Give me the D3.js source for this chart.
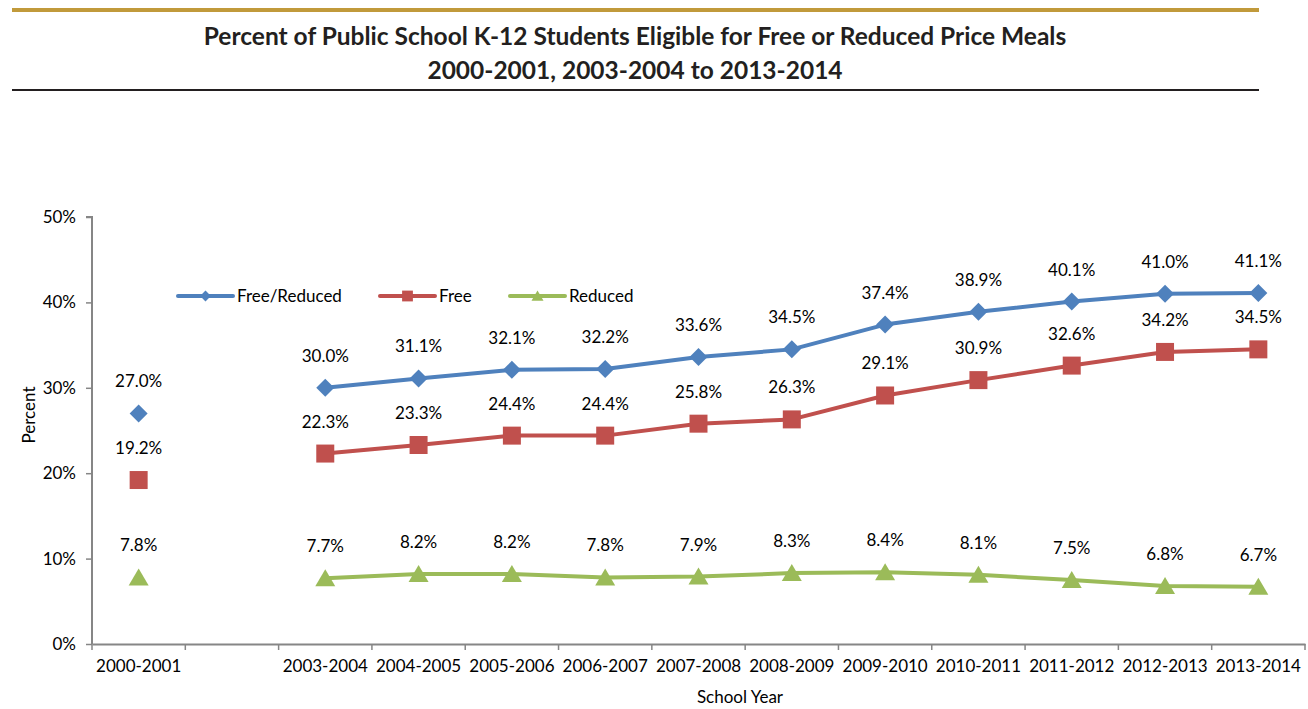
<!DOCTYPE html>
<html>
<head>
<meta charset="utf-8">
<script src="https://cdn.jsdelivr.net/npm/d3@7"></script>
<style>
  body { margin: 0; background: #fff; }
  svg { display: block; }
</style>
</head>
<body>
<svg id="mainSvg" width="1308" height="709"></svg>
<script>
let years = ["2000-2001", "", "2003-2004", "2004-2005", "2005-2006", "2006-2007", "2007-2008",
  "2008-2009", "2009-2010", "2010-2011", "2011-2012", "2012-2013", "2013-2014"];
let freeReduced = [27.0, null, 30.0, 31.1, 32.1, 32.2, 33.6, 34.5, 37.4, 38.9, 40.1, 41.0, 41.1];
let free = [19.2, null, 22.3, 23.3, 24.4, 24.4, 25.8, 26.3, 29.1, 30.9, 32.6, 34.2, 34.5];
let reduced = [7.8, null, 7.7, 8.2, 8.2, 7.8, 7.9, 8.3, 8.4, 8.1, 7.5, 6.8, 6.7];
let yTicks = [0, 10, 20, 30, 40, 50];

let series = [
  { name: "Free/Reduced", values: freeReduced, color: "#4F81BD", shape: "diamond" },
  { name: "Free", values: free, color: "#C0504D", shape: "square" },
  { name: "Reduced", values: reduced, color: "#9BBB59", shape: "triangle" }
];

let svg = d3.select('#mainSvg');
let labelFont = "Lato, Carlito, sans-serif";
let fs = 17;

// header rules + title
svg.append('rect').attr('x', 12).attr('y', 8).attr('width', 1247).attr('height', 4).attr('fill', '#C19A3B');
svg.append('rect').attr('x', 12).attr('y', 89).attr('width', 1247).attr('height', 2).attr('fill', '#231F20');
let title = svg.append('g').attr('font-family', labelFont).attr('font-weight', 'bold')
  .attr('font-size', 24.5).attr('fill', '#231F20').attr('text-anchor', 'middle');
title.append('text').attr('x', 635).attr('y', 45).text("Percent of Public School K-12 Students Eligible for Free or Reduced Price Meals");
title.append('text').attr('x', 635).attr('y', 79).text("2000-2001, 2003-2004 to 2013-2014");

let x = d3.scaleBand().domain(d3.range(years.length)).range([92, 1305]);
let y = d3.scaleLinear().domain([0, 50]).range([644, 217]);

// axes
let xAxis = svg.append('g').attr('transform', 'translate(0,644)')
  .call(d3.axisBottom(x).tickSize(0).tickFormat(i => years[i]));
xAxis.select('.domain').attr('stroke', '#868686').attr('stroke-width', 2);
xAxis.selectAll('text').attr('font-family', labelFont).attr('font-size', fs).attr('fill', '#000').attr('y', 28).attr('dy', 0);
let bandEdges = d3.range(years.length + 1).map(i => 92 + i * x.step());
svg.append('g').selectAll('line').data(bandEdges).join('line')
  .attr('x1', d => d).attr('x2', d => d).attr('y1', 644).attr('y2', 650)
  .attr('stroke', '#868686').attr('stroke-width', 1.5);

let yAxis = svg.append('g').attr('transform', 'translate(92,0)')
  .call(d3.axisLeft(y).tickValues(yTicks).tickSize(6).tickPadding(10).tickFormat(d => d + '%'));
yAxis.select('.domain').attr('stroke', '#868686').attr('stroke-width', 2).attr('d', 'M-6,217H0V644');
yAxis.selectAll('.tick line').attr('stroke', '#868686').attr('stroke-width', 1.5);
yAxis.selectAll('text').attr('font-family', labelFont).attr('font-size', fs).attr('fill', '#000');

svg.append('text').attr('transform', 'translate(35,415) rotate(-90)').attr('text-anchor', 'middle')
  .attr('font-family', labelFont).attr('font-size', fs).text('Percent');
svg.append('text').attr('x', 740).attr('y', 703).attr('text-anchor', 'middle')
  .attr('font-family', labelFont).attr('font-size', fs).text('School Year');

function marker(shape) {
  if (shape == "diamond") return "M0,-9L9,0L0,9L-9,0Z";
  if (shape == "square") return "M-9,-9H9V9H-9Z";
  return "M0,-9L10,8H-10Z";
}

let line = d3.line()
  .defined(d => d.v != null)
  .x(d => x(d.i) + x.bandwidth() / 2)
  .y(d => y(d.v));

series.forEach(s => {
  let pts = s.values.map((v, i) => ({ v: v, i: i }));
  // only connect the consecutive years 2003-2004 onward
  svg.append('path').datum(pts.slice(2)).attr('d', line)
    .attr('fill', 'none').attr('stroke', s.color).attr('stroke-width', 4)
    .attr('stroke-linejoin', 'round').attr('stroke-linecap', 'round');
  let valid = pts.filter(d => d.v != null);
  svg.append('g').selectAll('path').data(valid).join('path')
    .attr('transform', d => `translate(${x(d.i) + x.bandwidth() / 2},${y(d.v)})`)
    .attr('d', marker(s.shape)).attr('fill', s.color);
  svg.append('g').selectAll('text').data(valid).join('text')
    .attr('x', d => x(d.i) + x.bandwidth() / 2).attr('y', d => y(d.v) - 26)
    .attr('text-anchor', 'middle').attr('font-family', labelFont).attr('font-size', fs)
    .text(d => d.v.toFixed(1) + '%');
});

// legend
let legendX = [178, 380, 510];
series.forEach((s, i) => {
  let g = svg.append('g').attr('transform', `translate(${legendX[i]},296)`);
  g.append('line').attr('x1', 0).attr('x2', 55).attr('stroke', s.color).attr('stroke-width', 4).attr('stroke-linecap', 'round');
  g.append('path').attr('transform', 'translate(27.5,0) scale(0.6)').attr('d', marker(s.shape)).attr('fill', s.color);
  g.append('text').attr('x', 59).attr('y', 6).attr('font-family', labelFont).attr('font-size', fs).text(s.name);
});
</script>
</body>
</html>
